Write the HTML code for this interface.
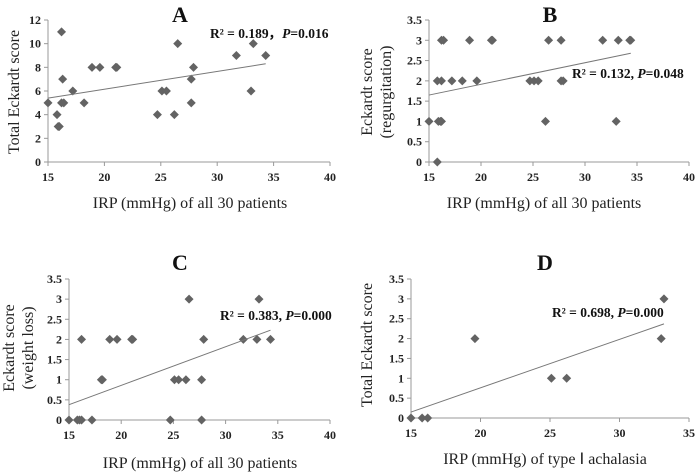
<!DOCTYPE html>
<html><head><meta charset="utf-8"><style>
body{margin:0;background:#fff;}
svg{display:block;font-family:"Liberation Serif",serif;}
.tk{font-size:12px;font-weight:bold;fill:#222;}
.at{font-size:16px;fill:#222;}
.ti{font-size:22px;font-weight:bold;fill:#111;}
.an{font-size:13.5px;font-weight:bold;fill:#111;}
</style></head><body>
<svg id="chart" width="700" height="475" viewBox="0 0 700 475"></svg>
<script>
const aX=[15,15.8,15.9,16,16.2,16.2,16.4,16.3,17.2,18.2,18.9,19.6,21,21.1,24.7,25.1,25.5,26.2,26.5,27.7,27.7,27.9,31.7,33,33.2,34.3];
const aY=[5,4,3,3,11,5,5,7,6,5,8,8,8,8,4,6,6,4,10,7,5,8,9,6,10,9];
const aTrend=[[15,5.4],[34.3,8.3]];
const bX=[15,15.8,15.9,16.1,16.2,15.8,16.2,17.2,18.2,19.6,24.7,25.1,25.5,27.7,27.9,16.2,16.4,18.9,21,21.1,26.5,27.7,31.7,33.2,34.3,34.4,26.2,33];
const bY=[1,0,1,1,1,2,2,2,2,2,2,2,2,2,2,3,3,3,3,3,3,3,3,3,3,3,1,1];
const bTrend=[[15,1.65],[34.4,2.68]];
const cX=[15,15.8,16,16.2,17.2,24.7,27.7,18.1,18.2,25.1,25.5,26.2,27.7,16.2,18.9,19.6,21,21.1,27.9,31.7,33,34.3,26.5,33.2];
const cY=[0,0,0,0,0,0,0,1,1,1,1,1,1,2,2,2,2,2,2,2,2,2,3,3];
const cTrend=[[15,0.38],[34.3,2.23]];
const dX=[15,15.8,16.2,19.6,25.1,26.2,33,33.2];
const dY=[0,0,0,2,1,1,2,3];
const dTrend=[[15,0.15],[33.2,2.37]];
const xTicks1=[15,20,25,30,35,40];
const xTicksD=[15,20,25,30,35];
const yTicksA=[0,2,4,6,8,10,12];
const yTicksB=[0,0.5,1,1.5,2,2.5,3,3.5];

const svg=document.getElementById('chart');
const NS='http://www.w3.org/2000/svg';
function mk(tag,attrs,parent,text){const e=document.createElementNS(NS,tag);for(const k in attrs)e.setAttribute(k,attrs[k]);if(text!==undefined)e.textContent=text;parent.appendChild(e);return e;}

const panels=[
 {id:'a',xs:aX,ys:aY,tr:aTrend,xt:xTicks1,yt:yTicksA,x0:48,x1:330,y0:162,y1:20,xmin:15,xmax:40,ymax:12,title:'A',tx:180,ty:22,
  yl:['Total Eckardt score'],ylx:[19],yly:92,xl:'IRP (mmHg) of all 30 patients',xlx:190,xly:208,an:['R² = 0.189，','P','=0.016'],anx:210,any:38},
 {id:'b',xs:bX,ys:bY,tr:bTrend,xt:xTicks1,yt:yTicksB,x0:429,x1:689,y0:162,y1:20,xmin:15,xmax:40,ymax:3.5,title:'B',tx:550,ty:22,
  yl:['Eckardt score','(regurgitation)'],ylx:[372,391],yly:92,xl:'IRP (mmHg) of all 30 patients',xlx:544,xly:208,an:['R² = 0.132, ','P','=0.048'],anx:572,any:78},
 {id:'c',xs:cX,ys:cY,tr:cTrend,xt:xTicks1,yt:yTicksB,x0:69,x1:330,y0:420,y1:279,xmin:15,xmax:40,ymax:3.5,title:'C',tx:180,ty:270,
  yl:['Eckardt score','(weight loss)'],ylx:[14,33],yly:348,xl:'IRP (mmHg) of all 30 patients',xlx:200,xly:468,an:['R² = 0.383, ','P','=0.000'],anx:220,any:320},
 {id:'d',xs:dX,ys:dY,tr:dTrend,xt:xTicksD,yt:yTicksB,x0:411,x1:689,y0:418,y1:279,xmin:15,xmax:35,ymax:3.5,title:'D',tx:545,ty:270,
  yl:['Total Eckardt score'],ylx:[372],yly:345,xl:'IRP (mmHg) of type Ⅰ achalasia',xlx:545,xly:464,an:['R² = 0.698,  ','P','=0.000'],anx:552,any:317}
];
panels.forEach(p=>{
 const g=mk('g',{},svg);
 
 
 const sx=v=>p.x0+(v-p.xmin)/(p.xmax-p.xmin)*(p.x1-p.x0);
 const sy=v=>p.y0-(v/p.ymax)*(p.y0-p.y1);
 const ax=mk('line',{x1:p.x0,y1:p.y0,x2:p.x1,y2:p.y0,stroke:'#999','stroke-width':1},g);
 
 
 const ay=mk('line',{x1:p.x0,y1:p.y0,x2:p.x0,y2:p.y1,stroke:'#999','stroke-width':1},g);
 
 
 p.xt.forEach(t=>{
  mk('line',{x1:sx(t),y1:p.y0,x2:sx(t),y2:p.y0+4,stroke:'#999'},g);
  const l=mk('text',{x:sx(t),y:p.y0+19,'text-anchor':'middle',class:'tk'},g,String(t));
  
  
 });
 p.yt.forEach(t=>{
  mk('line',{x1:p.x0-4,y1:sy(t),x2:p.x0,y2:sy(t),stroke:'#999'},g);
  const l=mk('text',{x:p.x0-7,y:sy(t)+4,'text-anchor':'end',class:'tk'},g,String(t));
  
  
 });
 p.xs.forEach((x,i)=>{
  const cx=sx(x),cy=sy(p.ys[i]),r=4.5;
  const d=mk('polygon',{points:`${cx},${cy-r} ${cx+r},${cy} ${cx},${cy+r} ${cx-r},${cy}`,fill:'#636363'},g);
  
  
 });
 const tl=mk('line',{x1:sx(p.tr[0][0]),y1:sy(p.tr[0][1]),x2:sx(p.tr[1][0]),y2:sy(p.tr[1][1]),stroke:'#777','stroke-width':1},g);
 
 
 const ti=mk('text',{x:p.tx,y:p.ty,'text-anchor':'middle',class:'ti'},g,p.title);
 
 
 p.yl.forEach((s,i)=>{
  const t=mk('text',{x:p.ylx[i],y:p.yly,'text-anchor':'middle',class:'at',transform:`rotate(-90 ${p.ylx[i]} ${p.yly})`},g,s);
  
  
 });
 const xl=mk('text',{x:p.xlx,y:p.xly,'text-anchor':'middle',class:'at'},g,p.xl);
 
 
 const an=mk('text',{x:p.anx,y:p.any,class:'an'},g);
 
 
 mk('tspan',{},an,p.an[0]);
 mk('tspan',{'font-style':'italic'},an,p.an[1]);
 mk('tspan',{},an,p.an[2]);
});
</script>
</body></html>
